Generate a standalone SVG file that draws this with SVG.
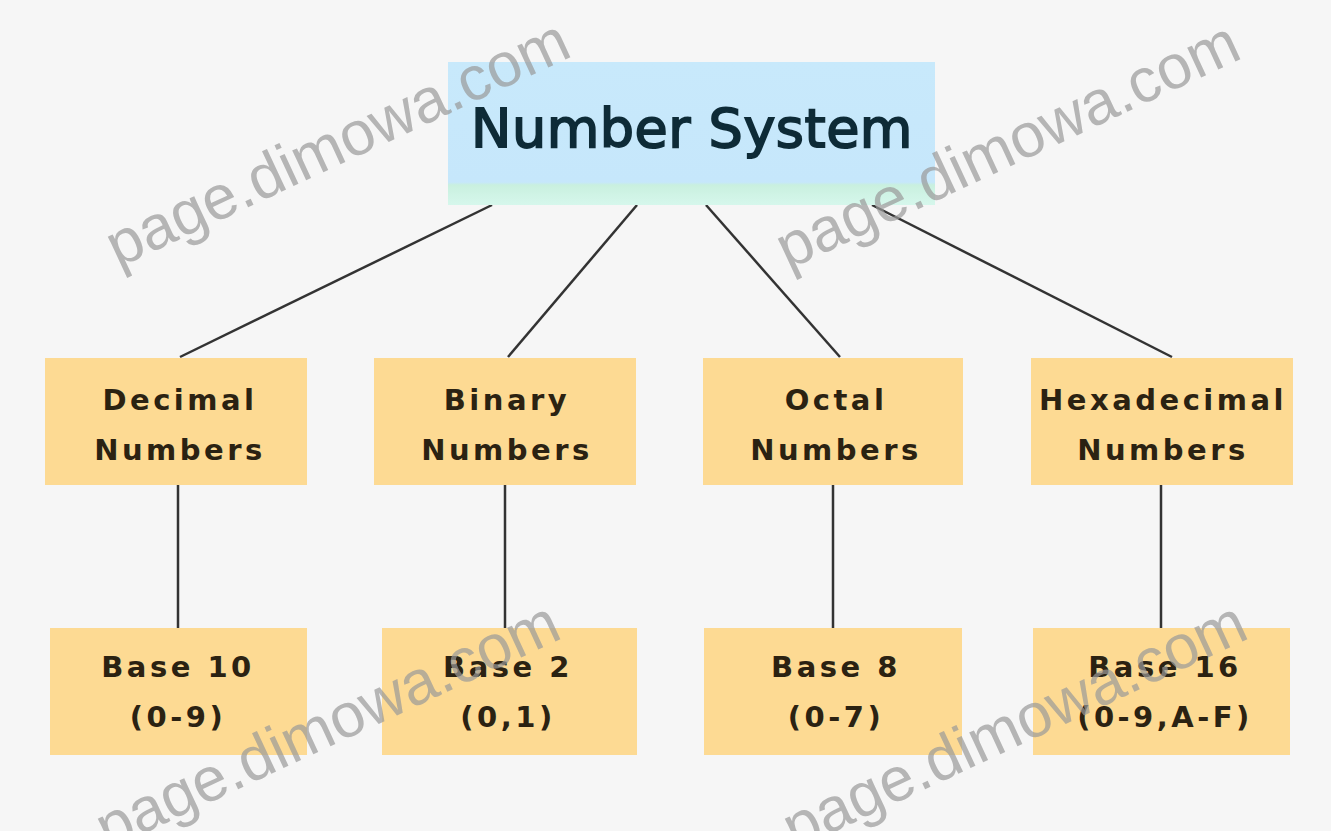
<svg xmlns="http://www.w3.org/2000/svg" width="1331" height="831" viewBox="0 0 1331 831">
<defs>
<linearGradient id="topg" x1="0" y1="0" x2="0" y2="1">
<stop offset="0" stop-color="#c8e9fb"/>
<stop offset="0.84" stop-color="#c6e7fb"/>
<stop offset="0.86" stop-color="#c9f0df"/>
<stop offset="1" stop-color="#d6f7ec"/>
</linearGradient>
<style>
.box{fill:#fdda93;}
.lbl{font-family:"DejaVu Sans",sans-serif;font-weight:bold;font-size:29px;fill:#2b2212;text-anchor:middle;letter-spacing:3.5px;}
.title{font-family:"DejaVu Sans",sans-serif;font-size:54px;fill:#0e2b37;stroke:#0e2b37;stroke-width:1.8;text-anchor:middle;letter-spacing:0.5px;}
.wm{font-family:"Liberation Sans",Arial,sans-serif;font-size:62px;fill:#9a9a9a;opacity:0.7;}
.conn line{stroke:#333333;stroke-width:2.5;}
</style>
</defs>
<rect width="1331" height="831" fill="#f6f6f6"/>
<g class="conn">
<line x1="492" y1="205" x2="180" y2="357"/>
<line x1="637" y1="205" x2="508" y2="357"/>
<line x1="706" y1="205" x2="840" y2="357"/>
<line x1="872" y1="205" x2="1172" y2="357"/>
<line x1="178" y1="485" x2="178" y2="628"/>
<line x1="505" y1="485" x2="505" y2="628"/>
<line x1="833" y1="485" x2="833" y2="628"/>
<line x1="1161" y1="485" x2="1161" y2="628"/>
</g>
<g id="number-system">
<rect x="448" y="62" width="487" height="143" fill="url(#topg)"/>
<text class="title" x="692" y="147">Number System</text>
</g>
<g id="decimal">
<rect class="box" x="45" y="358" width="262" height="127"/>
<text class="lbl" x="180" y="410">Decimal</text>
<text class="lbl" x="180" y="460">Numbers</text>
</g>
<g id="binary">
<rect class="box" x="374" y="358" width="262" height="127"/>
<text class="lbl" x="507" y="410">Binary</text>
<text class="lbl" x="507" y="460">Numbers</text>
</g>
<g id="octal">
<rect class="box" x="703" y="358" width="260" height="127"/>
<text class="lbl" x="836" y="410">Octal</text>
<text class="lbl" x="836" y="460">Numbers</text>
</g>
<g id="hexadecimal">
<rect class="box" x="1031" y="358" width="262" height="127"/>
<text class="lbl" x="1163" y="410">Hexadecimal</text>
<text class="lbl" x="1163" y="460">Numbers</text>
</g>
<g id="base10">
<rect class="box" x="50" y="628" width="257" height="127"/>
<text class="lbl" x="178" y="677">Base 10</text>
<text class="lbl" x="178" y="727">(0-9)</text>
</g>
<g id="base2">
<rect class="box" x="382" y="628" width="255" height="127"/>
<text class="lbl" x="508" y="677">Base 2</text>
<text class="lbl" x="508" y="727">(0,1)</text>
</g>
<g id="base8">
<rect class="box" x="704" y="628" width="258" height="127"/>
<text class="lbl" x="836" y="677">Base 8</text>
<text class="lbl" x="836" y="727">(0-7)</text>
</g>
<g id="base16">
<rect class="box" x="1033" y="628" width="257" height="127"/>
<text class="lbl" x="1165" y="677">Base 16</text>
<text class="lbl" x="1165" y="727">(0-9,A-F)</text>
</g>
<g id="watermarks">
<text class="wm" transform="translate(118,268) rotate(-25)">page.dimowa.com</text>
<text class="wm" transform="translate(788,270) rotate(-25)">page.dimowa.com</text>
<text class="wm" transform="translate(108,850) rotate(-25)">page.dimowa.com</text>
<text class="wm" transform="translate(795,850) rotate(-25)">page.dimowa.com</text>
</g>
</svg>
